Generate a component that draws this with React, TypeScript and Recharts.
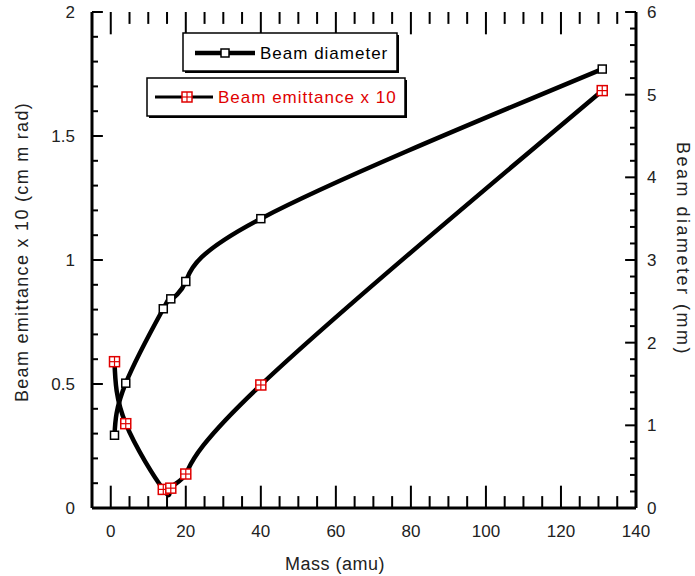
import React from "react";
import { ComposedChart, Line, ReferenceLine, XAxis, YAxis } from "recharts";

const masses = [1, 4, 14, 16, 20, 40, 131];
const beamDiameter = [0.88, 1.51, 2.41, 2.53, 2.74, 3.5, 5.31];
const beamEmittance = [0.59, 0.34, 0.075, 0.08, 0.137, 0.496, 1.683];

const massTicks = [0, 5, 10, 15, 20, 25, 30, 35, 40, 45, 50, 55, 60, 65, 70, 75, 80, 85, 90, 95, 100, 105, 110, 115, 120, 125, 130, 135, 140];
const massLabels = [0, 20, 40, 60, 80, 100, 120, 140];
const emitTicks = [0, 0.1, 0.2, 0.3, 0.4, 0.5, 0.6, 0.7, 0.8, 0.9, 1, 1.1, 1.2, 1.3, 1.4, 1.5, 1.6, 1.7, 1.8, 1.9, 2];
const emitLabels = [0, 0.5, 1, 1.5, 2];
const diamTicks = [0, 0.2, 0.4, 0.6, 0.8, 1, 1.2, 1.4, 1.6, 1.8, 2, 2.2, 2.4, 2.6, 2.8, 3, 3.2, 3.4, 3.6, 3.8, 4, 4.2, 4.4, 4.6, 4.8, 5, 5.2, 5.4, 5.6, 5.8, 6];
const diamLabels = [0, 1, 2, 3, 4, 5, 6];

const MASS_MIN = -5;
const MASS_MAX = 140;
const EMIT_MAX = 2;
const DIAM_MAX = 6;

const data = masses.map((m, i) => ({ mass: m, diameter: beamDiameter[i], emittance: beamEmittance[i] }));

const isLabel = (list: number[], v: number) => list.some((l) => Math.abs(l - v) < 1e-6);

const FONT = "'Liberation Sans', Arial, sans-serif";
const RED = "#e00000";
const TXT = "#222";
const tickFont = { fontSize: 17, fill: TXT, fontFamily: FONT };
const frame = { stroke: "#000", strokeWidth: 3 };
const markLine = { stroke: "#000", strokeWidth: 2 };
const noLabel = () => "";

// inward tick mark lengths in axis units (about 11px major, 6px minor)
const MAJ_X = 2.9, MIN_X = 1.6;
const MAJ_Y = 0.045, MIN_Y = 0.024;

const OpenSquare = ({ cx, cy, s = 8 }: any) => (
  <rect x={cx - s / 2} y={cy - s / 2} width={s} height={s} fill="#fff" stroke="#000" strokeWidth={1.5} />
);

const CrossSquare = ({ cx, cy, s = 10 }: any) => (
  <g>
    <rect x={cx - s / 2} y={cy - s / 2} width={s} height={s} fill="#fff" stroke={RED} strokeWidth={1.5} />
    <line x1={cx} x2={cx} y1={cy - s / 2} y2={cy + s / 2} stroke={RED} strokeWidth={1.2} />
    <line x1={cx - s / 2} x2={cx + s / 2} y1={cy} y2={cy} stroke={RED} strokeWidth={1.2} />
  </g>
);

const seg = (key: string, xId: string, yId: string, a: any, b: any) => (
  <ReferenceLine key={key} xAxisId={xId} yAxisId={yId} segment={[a, b]} stroke="#000" strokeWidth={2} ifOverflow="visible" />
);

// mirrored axes: tick lines only, pointing into the plot
const xMarks = (id: string, ticks: number[], size: number) => (
  <XAxis key={id} xAxisId={id} orientation="bottom" mirror dataKey="mass" type="number" domain={[MASS_MIN, MASS_MAX]} allowDataOverflow
    ticks={ticks} interval={0} height={0} tickSize={size} tickLine={markLine} axisLine={false} tickFormatter={noLabel} tick={{ fontSize: 1 }} />
);
const yMarks = (id: string, side: "left" | "right", max: number, ticks: number[], size: number) => (
  <YAxis key={id} yAxisId={id} orientation={side} mirror type="number" domain={[0, max]} allowDataOverflow
    ticks={ticks} interval={0} width={0} tickSize={size} tickLine={markLine} axisLine={false} tickFormatter={noLabel} tick={{ fontSize: 1 }} />
);

export default function App() {
  return (
    <div style={{ position: "absolute", left: 0, top: 0, width: 695, height: 576, background: "#fff" }}>
      <ComposedChart width={695} height={576} data={data} margin={{ top: 12, right: 0, bottom: 0, left: 0 }}>
        <XAxis xAxisId="b" dataKey="mass" type="number" domain={[MASS_MIN, MASS_MAX]} ticks={massLabels} interval={0} allowDataOverflow height={68} tickSize={0} tickMargin={17} tickLine={false} axisLine={frame} tick={tickFont} />
        <XAxis xAxisId="t" orientation="top" dataKey="mass" type="number" domain={[MASS_MIN, MASS_MAX]} ticks={massLabels} interval={0} allowDataOverflow height={0} tick={false} tickLine={false} axisLine={frame} />
        <YAxis yAxisId="l" orientation="left" type="number" domain={[0, EMIT_MAX]} ticks={emitLabels} interval={0} allowDataOverflow width={92} tickSize={0} tickMargin={17} tickLine={false} axisLine={frame} tick={tickFont} />
        <YAxis yAxisId="r" orientation="right" type="number" domain={[0, DIAM_MAX]} ticks={diamLabels} interval={0} allowDataOverflow width={59} tickSize={0} tickMargin={11} tickLine={false} axisLine={frame} tick={tickFont} />
        {xMarks("bMaj", massLabels, 11)}
        {xMarks("bMin", massTicks, 6)}
        {yMarks("lMaj", "left", EMIT_MAX, emitLabels, 11)}
        {yMarks("lMin", "left", EMIT_MAX, emitTicks, 6)}
        {yMarks("rMaj", "right", DIAM_MAX, diamLabels, 11)}
        {yMarks("rMin", "right", DIAM_MAX, diamTicks, 6)}
        {massTicks.map((v) => {
          const len = (isLabel(massLabels, v) ? MAJ_Y : MIN_Y) * EMIT_MAX;
          return [
            seg(`b${v}`, "b", "l", { x: v, y: 0 }, { x: v, y: len }),
            seg(`t${v}`, "b", "l", { x: v, y: EMIT_MAX }, { x: v, y: EMIT_MAX - len }),
          ];
        })}
        {emitTicks.map((v) => seg(`l${v}`, "b", "l", { x: MASS_MIN, y: v }, { x: MASS_MIN + (isLabel(emitLabels, v) ? MAJ_X : MIN_X), y: v }))}
        {diamTicks.map((v) => seg(`r${v}`, "b", "r", { x: MASS_MAX, y: v }, { x: MASS_MAX - (isLabel(diamLabels, v) ? MAJ_X : MIN_X), y: v }))}
        <Line
          xAxisId="b"
          yAxisId="r"
          type="natural"
          dataKey="diameter"
          stroke="#000"
          strokeWidth={4.5}
          isAnimationActive={false}
          dot={(p: any) => <OpenSquare key={`d${p.index}`} cx={p.cx} cy={p.cy} />}
          activeDot={false}
        />
        <Line
          xAxisId="b"
          yAxisId="l"
          type="natural"
          dataKey="emittance"
          stroke="#000"
          strokeWidth={4.5}
          isAnimationActive={false}
          dot={(p: any) => <CrossSquare key={`e${p.index}`} cx={p.cx} cy={p.cy} />}
          activeDot={false}
        />
      </ComposedChart>
      <svg width={695} height={576} style={{ position: "absolute", left: 0, top: 0, pointerEvents: "none" }}>
        <g fontFamily={FONT}>
          <rect x={185} y={35} width={214} height={38} fill="#000" />
          <rect x={183} y={33} width={214} height={38} fill="#fff" stroke="#000" strokeWidth={1.5} />
          <line x1={195} x2={255} y1={53} y2={53} stroke="#000" strokeWidth={4.5} />
          <OpenSquare cx={225} cy={53} />
          <text x={260} y={59} fontSize={17} fill="#000" letterSpacing={1}>Beam diameter</text>

          <rect x={149} y={80} width={258} height={38} fill="#000" />
          <rect x={147} y={78} width={258} height={38} fill="#fff" stroke="#000" strokeWidth={1.5} />
          <line x1={155} x2={213} y1={97} y2={97} stroke="#000" strokeWidth={3} />
          <CrossSquare cx={187} cy={97} />
          <text x={218} y={103} fontSize={17} fill={RED} letterSpacing={1}>Beam emittance x 10</text>

          <text transform="translate(28,252) rotate(-90)" textAnchor="middle" fontSize={18} fill={TXT} letterSpacing={1.3}>
            Beam emittance x 10 (cm m rad)
          </text>
          <text transform="translate(677,249) rotate(90)" textAnchor="middle" fontSize={18} fill={TXT} letterSpacing={2.5}>
            Beam diameter (mm)
          </text>
          <text x={335} y={570} textAnchor="middle" fontSize={18} fill={TXT} letterSpacing={0.5}>
            Mass (amu)
          </text>
        </g>
      </svg>
    </div>
  );
}
